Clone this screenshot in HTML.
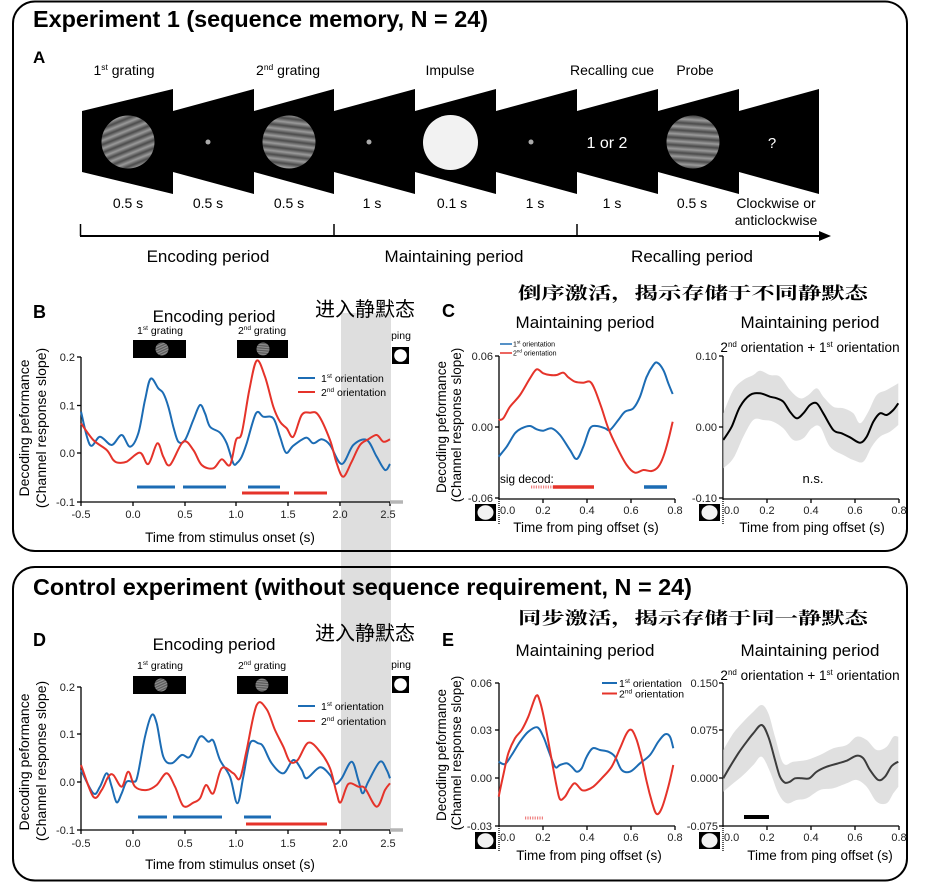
<!DOCTYPE html>
<html><head><meta charset="utf-8">
<style>
html,body{margin:0;padding:0;background:#fff;}
svg{display:block;font-family:"Liberation Sans",Arial,sans-serif;}
.cjk{font-family:"Liberation Sans","Noto Sans CJK SC","WenQuanYi Zen Hei",sans-serif;}
.cjks{font-family:"Liberation Serif","Noto Serif CJK SC","Noto Sans CJK SC",serif;font-weight:700;}
</style></head><body>
<svg width="936" height="882" viewBox="0 0 936 882" xmlns="http://www.w3.org/2000/svg">
<defs>
<linearGradient id="sg" x1="0" y1="0" x2="0" y2="1"><stop offset="0" stop-color="#4a4a4a"/><stop offset="0.5" stop-color="#9a9a9a"/><stop offset="1" stop-color="#4a4a4a"/></linearGradient>
<pattern id="g1" patternUnits="userSpaceOnUse" width="80" height="7.5" patternTransform="rotate(-22)"><rect width="80" height="7.5" fill="url(#sg)"/></pattern>
<pattern id="g2" patternUnits="userSpaceOnUse" width="80" height="7.5" patternTransform="rotate(7)"><rect width="80" height="7.5" fill="url(#sg)"/></pattern>
<pattern id="g3" patternUnits="userSpaceOnUse" width="80" height="7.5" patternTransform="rotate(4)"><rect width="80" height="7.5" fill="url(#sg)"/></pattern>
<pattern id="gs1" patternUnits="userSpaceOnUse" width="30" height="2.4" patternTransform="rotate(-25)"><rect width="30" height="2.4" fill="url(#sg)"/></pattern>
<pattern id="gs2" patternUnits="userSpaceOnUse" width="30" height="2.4" patternTransform="rotate(5)"><rect width="30" height="2.4" fill="url(#sg)"/></pattern>
</defs>

<!-- gray band -->
<rect x="341" y="313" width="50" height="517" fill="#dedede"/>

<!-- boxes -->
<rect x="13" y="1.5" width="894" height="549.5" rx="22" fill="none" stroke="#000" stroke-width="2"/>
<rect x="13" y="567" width="894" height="313.5" rx="22" fill="none" stroke="#000" stroke-width="2"/>

<!-- Titles -->
<text x="33" y="27" font-size="23" font-weight="bold" textLength="455" lengthAdjust="spacingAndGlyphs">Experiment 1 (sequence memory, N = 24)</text>
<text x="33" y="595" font-size="23" font-weight="bold" textLength="659" lengthAdjust="spacingAndGlyphs">Control experiment (without sequence requirement, N = 24)</text>

<!-- Panel A -->
<text x="33" y="63" font-size="17" font-weight="bold">A</text>
<g fill="#000">
<polygon points="82,111 173,89 173,194 82,172"/>
<polygon points="173,111 254,89 254,194 173,172"/>
<polygon points="254,111 334,89 334,194 254,172"/>
<polygon points="334,111 415,89 415,194 334,172"/>
<polygon points="415,111 496,89 496,194 415,172"/>
<polygon points="496,111 577,89 577,194 496,172"/>
<polygon points="577,111 658,89 658,194 577,172"/>
<polygon points="658,111 739,89 739,194 658,172"/>
<polygon points="739,111 819,89 819,194 739,172"/>
</g>
<circle cx="128" cy="142" r="26.5" fill="url(#g1)"/>
<circle cx="208" cy="142" r="2.5" fill="#aaa"/>
<circle cx="289" cy="142" r="26.5" fill="url(#g2)"/>
<circle cx="369" cy="142" r="2.5" fill="#aaa"/>
<circle cx="450.5" cy="142.5" r="27.5" fill="#f2f2f2"/>
<circle cx="531" cy="142" r="2.5" fill="#aaa"/>
<text x="607" y="148" font-size="16" fill="#fff" text-anchor="middle">1 or 2</text>
<circle cx="693" cy="142" r="26.5" fill="url(#g3)"/>
<text x="772" y="148" font-size="15" fill="#fff" text-anchor="middle">?</text>

<g font-size="14" text-anchor="middle">
<text x="124" y="75">1<tspan font-size="8.5" dy="-5">st</tspan><tspan dy="5"> grating</tspan></text>
<text x="288" y="75">2<tspan font-size="8.5" dy="-5">nd</tspan><tspan dy="5"> grating</tspan></text>
<text x="450" y="75">Impulse</text>
<text x="612" y="75">Recalling cue</text>
<text x="695" y="75">Probe</text>
<text x="128" y="208">0.5 s</text>
<text x="208" y="208">0.5 s</text>
<text x="289" y="208">0.5 s</text>
<text x="372" y="208">1 s</text>
<text x="452" y="208">0.1 s</text>
<text x="535" y="208">1 s</text>
<text x="612" y="208">1 s</text>
<text x="692" y="208">0.5 s</text>
<text x="776" y="208">Clockwise or</text>
<text x="776" y="225">anticlockwise</text>
</g>
<line x1="80" y1="236" x2="822" y2="236" stroke="#000" stroke-width="2"/>
<polygon points="819,231 831,236 819,241" fill="#000"/>
<g stroke="#000" stroke-width="1.5">
<line x1="80.5" y1="224" x2="80.5" y2="236"/>
<line x1="334" y1="224" x2="334" y2="236"/>
<line x1="577" y1="224" x2="577" y2="236"/>
</g>
<g font-size="17" text-anchor="middle">
<text x="208" y="262">Encoding period</text>
<text x="454" y="262">Maintaining period</text>
<text x="692" y="262">Recalling period</text>
</g>

<!-- Panel B -->
<text x="33" y="318" font-size="18" font-weight="bold">B</text>
<text x="214" y="322" font-size="17" text-anchor="middle">Encoding period</text>
<text x="315" y="316" font-size="20" class="cjk" textLength="100" lengthAdjust="spacingAndGlyphs">进入静默态</text>
<g font-size="10.5" text-anchor="middle">
<text x="160" y="334">1<tspan font-size="6.5" dy="-4">st</tspan><tspan dy="4"> grating</tspan></text>
<text x="262" y="334">2<tspan font-size="6.5" dy="-4">nd</tspan><tspan dy="4"> grating</tspan></text>
<text x="401" y="339">ping</text>
</g>
<rect x="133" y="340" width="53" height="18" fill="#000"/>
<circle cx="162" cy="349" r="6.5" fill="url(#gs1)"/>
<rect x="237" y="340" width="51" height="18" fill="#000"/>
<circle cx="263" cy="349" r="6.5" fill="url(#gs2)"/>
<rect x="392" y="347" width="17" height="17" fill="#000"/>
<circle cx="400.5" cy="355.5" r="6.3" fill="#fff"/>

<g stroke="#000" stroke-width="1.3" fill="none">
<line x1="81" y1="357" x2="81" y2="502"/>
<line x1="81" y1="502" x2="390" y2="502"/>
<line x1="77" y1="357" x2="81" y2="357"/><line x1="77" y1="405.5" x2="81" y2="405.5"/><line x1="77" y1="453" x2="81" y2="453"/><line x1="77" y1="502" x2="81" y2="502"/>
<line x1="81" y1="502" x2="81" y2="506"/><line x1="133" y1="502" x2="133" y2="506"/><line x1="185" y1="502" x2="185" y2="506"/><line x1="236" y1="502" x2="236" y2="506"/><line x1="288" y1="502" x2="288" y2="506"/><line x1="340" y1="502" x2="340" y2="506"/><line x1="390" y1="502" x2="390" y2="506"/>
</g>
<line x1="390" y1="502" x2="403" y2="502" stroke="#b5b5b5" stroke-width="3.5"/>
<g font-size="11" text-anchor="end" fill="#222">
<text x="75" y="361">0.2</text><text x="75" y="409.5">0.1</text><text x="75" y="457">0.0</text><text x="75" y="506">-0.1</text>
</g>
<g font-size="11" text-anchor="middle" fill="#222">
<text x="81" y="518">-0.5</text><text x="133" y="518">0.0</text><text x="185" y="518">0.5</text><text x="236" y="518">1.0</text><text x="288" y="518">1.5</text><text x="340" y="518">2.0</text><text x="388" y="518">2.5</text>
</g>
<g font-size="14" text-anchor="middle">
<text transform="translate(29,428) rotate(-90)">Decoding peformance</text>
<text transform="translate(46,428) rotate(-90)">(Channel response slope)</text>
</g>
<text x="230" y="542" font-size="13.5" text-anchor="middle">Time from stimulus onset (s)</text>
<line x1="298" y1="378" x2="315" y2="378" stroke="#1c6cb4" stroke-width="2"/>
<line x1="298" y1="392" x2="315" y2="392" stroke="#e5332a" stroke-width="2"/>
<g font-size="10.5">
<text x="321" y="382">1<tspan font-size="6.5" dy="-4">st</tspan><tspan dy="4"> orientation</tspan></text>
<text x="321" y="396">2<tspan font-size="6.5" dy="-4">nd</tspan><tspan dy="4"> orientation</tspan></text>
</g>
<path id="bB" fill="none" stroke="#1c6cb4" stroke-width="2"/>
<path id="bR" fill="none" stroke="#e5332a" stroke-width="2"/>
<g stroke-width="3">
<line x1="137" y1="487" x2="175" y2="487" stroke="#1c6cb4"/>
<line x1="183" y1="487" x2="226" y2="487" stroke="#1c6cb4"/>
<line x1="248" y1="487" x2="280" y2="487" stroke="#1c6cb4"/>
<line x1="242" y1="493" x2="289" y2="493" stroke="#e5332a"/>
<line x1="294" y1="493" x2="327" y2="493" stroke="#e5332a"/>
</g>

<!-- Panel C -->
<text x="518" y="299" font-size="17" class="cjks" textLength="350" lengthAdjust="spacingAndGlyphs">倒序激活，揭示存储于不同静默态</text>
<text x="442" y="317" font-size="18" font-weight="bold">C</text>
<g font-size="17" text-anchor="middle">
<text x="585" y="328">Maintaining period</text>
<text x="810" y="328">Maintaining period</text>
</g>
<text x="810" y="352" font-size="13.5" text-anchor="middle">2<tspan font-size="8" dy="-5">nd</tspan><tspan dy="5"> orientation + 1</tspan><tspan font-size="8" dy="-5">st</tspan><tspan dy="5"> orientation</tspan></text>

<g stroke="#000" stroke-width="1.3" fill="none">
<line x1="499" y1="356" x2="499" y2="499"/>
<line x1="499" y1="499" x2="675" y2="499"/>
<line x1="495" y1="356" x2="499" y2="356"/><line x1="495" y1="427" x2="499" y2="427"/><line x1="495" y1="498" x2="499" y2="498"/>
<line x1="543" y1="499" x2="543" y2="503"/><line x1="587" y1="499" x2="587" y2="503"/><line x1="631" y1="499" x2="631" y2="503"/><line x1="675" y1="499" x2="675" y2="503"/>
<line x1="723" y1="356" x2="723" y2="499"/>
<line x1="723" y1="499" x2="899" y2="499"/>
<line x1="719" y1="356" x2="723" y2="356"/><line x1="719" y1="427" x2="723" y2="427"/><line x1="719" y1="498" x2="723" y2="498"/>
<line x1="767" y1="499" x2="767" y2="503"/><line x1="811" y1="499" x2="811" y2="503"/><line x1="855" y1="499" x2="855" y2="503"/><line x1="899" y1="499" x2="899" y2="503"/>
<line x1="499" y1="499" x2="499" y2="525" stroke-dasharray="1,1"/>
<line x1="723" y1="499" x2="723" y2="525" stroke-dasharray="1,1"/>
</g>
<g font-size="11" text-anchor="end" fill="#222">
<text x="493" y="360">0.06</text><text x="493" y="431">0.00</text><text x="493" y="502">-0.06</text>
<text x="717" y="360">0.10</text><text x="717" y="431">0.00</text><text x="717" y="502">-0.10</text>
</g>
<g font-size="11" text-anchor="middle" fill="#222">
<text x="500" y="514" text-anchor="start">0.0</text><text x="543" y="514">0.2</text><text x="587" y="514">0.4</text><text x="631" y="514">0.6</text><text x="675" y="514">0.8</text>
<text x="724" y="514" text-anchor="start">0.0</text><text x="767" y="514">0.2</text><text x="811" y="514">0.4</text><text x="855" y="514">0.6</text><text x="899" y="514">0.8</text>
</g>
<rect x="475" y="504" width="21" height="17" fill="#000"/><ellipse cx="485.5" cy="512.5" rx="8" ry="7.3" fill="#f2f2f2"/>
<rect x="699" y="504" width="21" height="17" fill="#000"/><ellipse cx="709.5" cy="512.5" rx="8" ry="7.3" fill="#f2f2f2"/>
<g font-size="13.5" text-anchor="middle">
<text transform="translate(446,427) rotate(-90)">Decoding peformance</text>
<text transform="translate(461,425) rotate(-90)">(Channel response slope)</text>
<text x="586" y="532">Time from ping offset (s)</text>
<text x="812" y="532">Time from ping offset (s)</text>
</g>
<line x1="500" y1="344" x2="512" y2="344" stroke="#1c6cb4" stroke-width="1.5"/>
<line x1="500" y1="353" x2="512" y2="353" stroke="#e5332a" stroke-width="1.5"/>
<g font-size="7">
<text x="513" y="346.5">1<tspan font-size="4.5" dy="-3">st</tspan><tspan dy="3"> orientation</tspan></text>
<text x="513" y="355.5">2<tspan font-size="4.5" dy="-3">nd</tspan><tspan dy="3"> orientation</tspan></text>
</g>
<path id="cBand" fill="#e0e0e0" stroke="none"/>
<path id="cB" fill="none" stroke="#1c6cb4" stroke-width="2"/>
<path id="cR" fill="none" stroke="#e5332a" stroke-width="2"/>
<path id="cK" fill="none" stroke="#000" stroke-width="2"/>
<text x="500" y="483" font-size="11.8">sig decod:</text>
<line x1="531" y1="487" x2="553" y2="487" stroke="#ef7f7f" stroke-width="3" stroke-dasharray="1.2,1.2"/>
<line x1="553" y1="487" x2="594" y2="487" stroke="#e5332a" stroke-width="3.5"/>
<line x1="644" y1="487" x2="667" y2="487" stroke="#1c6cb4" stroke-width="3.5"/>
<text x="813" y="483" font-size="13" text-anchor="middle">n.s.</text>

<!-- Panel D -->
<text x="33" y="646" font-size="18" font-weight="bold">D</text>
<text x="214" y="650" font-size="17" text-anchor="middle">Encoding period</text>
<text x="315" y="640" font-size="20" class="cjk" textLength="100" lengthAdjust="spacingAndGlyphs">进入静默态</text>
<g font-size="10.5" text-anchor="middle">
<text x="160" y="669">1<tspan font-size="6.5" dy="-4">st</tspan><tspan dy="4"> grating</tspan></text>
<text x="262" y="669">2<tspan font-size="6.5" dy="-4">nd</tspan><tspan dy="4"> grating</tspan></text>
<text x="401" y="668">ping</text>
</g>
<rect x="133" y="676" width="53" height="18" fill="#000"/>
<circle cx="161" cy="685" r="6.5" fill="url(#gs1)"/>
<rect x="237" y="676" width="51" height="18" fill="#000"/>
<circle cx="262" cy="685" r="6.5" fill="url(#gs2)"/>
<rect x="392" y="676" width="17" height="17" fill="#000"/>
<circle cx="400.5" cy="684.5" r="6.3" fill="#fff"/>
<g stroke="#000" stroke-width="1.3" fill="none">
<line x1="81" y1="687" x2="81" y2="830"/>
<line x1="81" y1="830" x2="390" y2="830"/>
<line x1="77" y1="687" x2="81" y2="687"/><line x1="77" y1="734" x2="81" y2="734"/><line x1="77" y1="782" x2="81" y2="782"/><line x1="77" y1="830" x2="81" y2="830"/>
<line x1="81" y1="830" x2="81" y2="834"/><line x1="133" y1="830" x2="133" y2="834"/><line x1="185" y1="830" x2="185" y2="834"/><line x1="236" y1="830" x2="236" y2="834"/><line x1="288" y1="830" x2="288" y2="834"/><line x1="340" y1="830" x2="340" y2="834"/><line x1="390" y1="830" x2="390" y2="834"/>
</g>
<line x1="390" y1="830" x2="403" y2="830" stroke="#b5b5b5" stroke-width="3.5"/>
<g font-size="11" text-anchor="end" fill="#222">
<text x="75" y="691">0.2</text><text x="75" y="738">0.1</text><text x="75" y="786">0.0</text><text x="75" y="834">-0.1</text>
</g>
<g font-size="11" text-anchor="middle" fill="#222">
<text x="81" y="847">-0.5</text><text x="133" y="847">0.0</text><text x="185" y="847">0.5</text><text x="236" y="847">1.0</text><text x="288" y="847">1.5</text><text x="340" y="847">2.0</text><text x="388" y="847">2.5</text>
</g>
<g font-size="14" text-anchor="middle">
<text transform="translate(29,762) rotate(-90)">Decoding peformance</text>
<text transform="translate(46,761) rotate(-90)">(Channel response slope)</text>
</g>
<text x="230" y="869" font-size="13.5" text-anchor="middle">Time from stimulus onset (s)</text>
<line x1="298" y1="706" x2="315" y2="706" stroke="#1c6cb4" stroke-width="2"/>
<line x1="298" y1="721" x2="315" y2="721" stroke="#e5332a" stroke-width="2"/>
<g font-size="10.5">
<text x="321" y="710">1<tspan font-size="6.5" dy="-4">st</tspan><tspan dy="4"> orientation</tspan></text>
<text x="321" y="725">2<tspan font-size="6.5" dy="-4">nd</tspan><tspan dy="4"> orientation</tspan></text>
</g>
<path id="dB" fill="none" stroke="#1c6cb4" stroke-width="2"/>
<path id="dR" fill="none" stroke="#e5332a" stroke-width="2"/>
<g stroke-width="3">
<line x1="138" y1="817" x2="167" y2="817" stroke="#1c6cb4"/>
<line x1="173" y1="817" x2="222" y2="817" stroke="#1c6cb4"/>
<line x1="244" y1="817" x2="271" y2="817" stroke="#1c6cb4"/>
<line x1="246" y1="824" x2="327" y2="824" stroke="#e5332a"/>
</g>

<!-- Panel E -->
<text x="518" y="624" font-size="17" class="cjks" textLength="350" lengthAdjust="spacingAndGlyphs">同步激活，揭示存储于同一静默态</text>
<text x="442" y="646" font-size="18" font-weight="bold">E</text>
<g font-size="17" text-anchor="middle">
<text x="585" y="656">Maintaining period</text>
<text x="810" y="656">Maintaining period</text>
</g>
<text x="810" y="680" font-size="13.5" text-anchor="middle">2<tspan font-size="8" dy="-5">nd</tspan><tspan dy="5"> orientation + 1</tspan><tspan font-size="8" dy="-5">st</tspan><tspan dy="5"> orientation</tspan></text>
<g stroke="#000" stroke-width="1.3" fill="none">
<line x1="499" y1="683" x2="499" y2="826"/>
<line x1="499" y1="826" x2="675" y2="826"/>
<line x1="495" y1="683" x2="499" y2="683"/><line x1="495" y1="730" x2="499" y2="730"/><line x1="495" y1="778" x2="499" y2="778"/><line x1="495" y1="826" x2="499" y2="826"/>
<line x1="543" y1="826" x2="543" y2="830"/><line x1="587" y1="826" x2="587" y2="830"/><line x1="631" y1="826" x2="631" y2="830"/><line x1="675" y1="826" x2="675" y2="830"/>
<line x1="723" y1="683" x2="723" y2="826"/>
<line x1="723" y1="826" x2="899" y2="826"/>
<line x1="719" y1="683" x2="723" y2="683"/><line x1="719" y1="730" x2="723" y2="730"/><line x1="719" y1="778" x2="723" y2="778"/><line x1="719" y1="826" x2="723" y2="826"/>
<line x1="767" y1="826" x2="767" y2="830"/><line x1="811" y1="826" x2="811" y2="830"/><line x1="855" y1="826" x2="855" y2="830"/><line x1="899" y1="826" x2="899" y2="830"/>
<line x1="499" y1="826" x2="499" y2="852" stroke-dasharray="1,1"/>
<line x1="723" y1="826" x2="723" y2="852" stroke-dasharray="1,1"/>
</g>
<g font-size="11" text-anchor="end" fill="#222">
<text x="492" y="687">0.06</text><text x="492" y="734">0.03</text><text x="492" y="782">0.00</text><text x="492" y="830">-0.03</text>
<text x="718" y="687">0.150</text><text x="718" y="734">0.075</text><text x="718" y="782">0.000</text><text x="718" y="830">-0.075</text>
</g>
<g font-size="11" text-anchor="middle" fill="#222">
<text x="500" y="841" text-anchor="start">0.0</text><text x="543" y="841">0.2</text><text x="587" y="841">0.4</text><text x="631" y="841">0.6</text><text x="675" y="841">0.8</text>
<text x="724" y="841" text-anchor="start">0.0</text><text x="767" y="841">0.2</text><text x="811" y="841">0.4</text><text x="855" y="841">0.6</text><text x="899" y="841">0.8</text>
</g>
<rect x="475" y="832" width="21" height="17" fill="#000"/><ellipse cx="485.5" cy="840.5" rx="8" ry="7.3" fill="#f2f2f2"/>
<rect x="699" y="832" width="21" height="17" fill="#000"/><ellipse cx="709.5" cy="840.5" rx="8" ry="7.3" fill="#f2f2f2"/>
<g font-size="13.5" text-anchor="middle">
<text transform="translate(446,755) rotate(-90)">Decoding peformance</text>
<text transform="translate(461,753) rotate(-90)">(Channel response slope)</text>
<text x="589" y="860">Time from ping offset (s)</text>
<text x="820" y="860">Time from ping offset (s)</text>
</g>
<line x1="602" y1="683" x2="617" y2="683" stroke="#1c6cb4" stroke-width="2"/>
<line x1="602" y1="693.5" x2="617" y2="693.5" stroke="#e5332a" stroke-width="2"/>
<g font-size="10.5">
<text x="619" y="687">1<tspan font-size="6.5" dy="-4">st</tspan><tspan dy="4"> orientation</tspan></text>
<text x="619" y="697.5">2<tspan font-size="6.5" dy="-4">nd</tspan><tspan dy="4"> orientation</tspan></text>
</g>
<path id="eBand" fill="#e0e0e0" stroke="none"/>
<path id="eB" fill="none" stroke="#1c6cb4" stroke-width="2"/>
<path id="eR" fill="none" stroke="#e5332a" stroke-width="2"/>
<path id="eK" fill="none" stroke="#3c3c3c" stroke-width="2"/>
<line x1="525" y1="818" x2="543" y2="818" stroke="#ef7f7f" stroke-width="3" stroke-dasharray="1.2,1.2"/>
<line x1="744" y1="817" x2="769" y2="817" stroke="#000" stroke-width="4"/>
</svg>
<script>
function cr(pts, move){
  var d=(move===false?'L':'M')+pts[0][0].toFixed(1)+','+pts[0][1].toFixed(1);
  for(var i=0;i<pts.length-1;i++){
    var p0=pts[i-1]||pts[i],p1=pts[i],p2=pts[i+1],p3=pts[i+2]||p2;
    var c1x=p1[0]+(p2[0]-p0[0])/6,c1y=p1[1]+(p2[1]-p0[1])/6;
    var c2x=p2[0]-(p3[0]-p1[0])/6,c2y=p2[1]-(p3[1]-p1[1])/6;
    d+=' C'+c1x.toFixed(1)+','+c1y.toFixed(1)+' '+c2x.toFixed(1)+','+c2y.toFixed(1)+' '+p2[0].toFixed(1)+','+p2[1].toFixed(1);
  }
  return d;
}
function z(a,ox,oy){return a.map(function(p){return [p[0]/3+ox,p[1]/3+oy];});}
function set(id,d){document.getElementById(id).setAttribute('d',d);}
function band(id,up,lo,ox,oy){
  var u=z(up,ox,oy), l=z(lo,ox,oy).reverse();
  set(id, cr(u)+' '+cr(l,false)+' Z');
}
// Panel B (offset 0,280)
set('bB',cr(z([[243,395],[270,495],[300,470],[335,495],[365,465],[390,500],[415,460],[435,360],[452,296],[475,325],[490,340],[505,380],[520,440],[535,485],[555,480],[580,420],[600,375],[615,400],[630,440],[660,458],[680,490],[700,550],[712,548],[725,530],[740,490],[768,400],[790,410],[820,415],[840,470],[858,518],[880,497],[918,473],[940,490],[965,478],[990,495],[1025,552],[1060,495],[1100,480],[1130,530],[1155,570],[1170,552]],0,280)));
set('bR',cr(z([[243,430],[280,480],[320,510],[340,540],[355,548],[380,545],[420,518],[445,552],[472,490],[490,530],[510,555],[550,485],[580,510],[605,555],[640,565],[665,538],[690,555],[708,480],[725,460],[748,330],[770,242],[795,290],[820,380],[840,425],[860,445],[880,470],[905,405],[930,398],[955,405],[990,480],[1010,550],[1030,590],[1055,545],[1080,495],[1105,478],[1130,465],[1150,485],[1170,478]],0,280)));
// Panel D (offset 0,560)
set('dB',cr(z([[243,630],[280,700],[300,680],[320,640],[335,680],[350,727],[365,700],[380,665],[400,665],[412,650],[435,530],[455,465],[470,490],[490,590],[515,610],[545,585],[570,590],[600,530],[625,545],[640,542],[660,600],[690,650],[712,730],[730,650],[750,550],[775,550],[790,560],[815,610],[850,640],[880,600],[905,630],[920,655],[960,622],[990,645],[1005,672],[1025,655],[1055,605],[1075,660],[1088,700],[1105,665],[1140,605],[1160,630],[1170,655]],0,560)));
set('dR',cr(z([[243,615],[280,710],[305,690],[325,650],[340,645],[365,680],[385,635],[405,680],[440,690],[470,675],[500,640],[525,680],[550,738],[580,728],[600,715],[618,675],[640,700],[665,625],[700,640],[720,655],[740,570],[770,435],[800,448],[825,510],[850,560],[870,605],[893,600],[925,548],[960,575],[990,625],[1010,700],[1022,727],[1045,672],[1075,680],[1095,685],[1130,740],[1155,690],[1170,670]],0,560)));
// Panel C (offset 420,280)
set('cB',cr(z([[236,530],[260,500],[285,460],[305,445],[330,438],[350,448],[370,452],[395,445],[420,465],[450,510],[470,537],[490,500],[510,445],[530,438],[555,445],[570,450],[595,420],[615,395],[640,385],[660,350],[680,290],[700,255],[712,248],[730,270],[745,310],[758,342]],420,280)));
set('cR',cr(z([[236,420],[250,415],[270,380],[300,345],[330,295],[350,268],[370,280],[390,285],[410,285],[430,278],[445,292],[465,305],[490,308],[510,305],[525,330],[545,385],[565,445],[590,500],[620,555],[645,578],[670,570],[695,573],[715,560],[730,530],[745,480],[758,425]],420,280)));
band('cBand',[[910,400],[940,330],[970,300],[1000,285],[1020,272],[1050,285],[1080,290],[1110,330],[1140,355],[1165,345],[1190,325],[1210,350],[1240,380],[1270,385],[1300,400],[1320,430],[1345,395],[1370,345],[1400,330],[1435,310]],
 [[910,565],[940,535],[970,470],[1000,420],[1030,420],[1060,425],[1090,445],[1120,480],[1150,475],[1175,445],[1200,440],[1230,500],[1270,525],[1300,540],[1330,545],[1355,500],[1380,470],[1410,455],[1435,435]],420,280);
set('cK',cr(z([[910,480],[935,440],[960,380],[990,345],[1020,340],[1050,350],[1070,355],[1090,365],[1110,395],[1130,415],[1150,400],[1170,375],[1190,370],[1210,400],[1240,450],[1265,460],[1290,472],[1320,488],[1340,470],[1360,425],[1380,400],[1400,405],[1420,390],[1435,370]],420,280)));
// Panel E (offset 420,590)
set('eB',cr(z([[236,515],[255,522],[275,495],[300,455],[325,425],[352,412],[370,440],[385,480],[405,530],[420,525],[440,520],[455,530],[470,545],[485,535],[500,500],[518,475],[540,480],[565,485],[585,500],[605,540],[630,545],[660,520],[690,495],[715,455],[735,433],[750,440],[760,475]],420,590)));
set('eR',cr(z([[236,620],[250,555],[265,490],[285,445],[305,420],[325,380],[348,318],[360,335],[375,400],[395,510],[410,590],[420,628],[435,620],[450,595],[465,580],[485,600],[500,600],[520,590],[545,565],[575,530],[600,475],[620,430],[635,420],[650,450],[665,505],[680,575],[697,640],[710,672],[725,655],[745,590],[760,525]],420,590)));
band('eBand',[[910,480],[940,430],[970,395],[1000,365],[1025,345],[1045,370],[1065,440],[1090,520],[1120,515],[1160,510],[1200,495],[1240,475],[1280,465],[1310,440],[1340,450],[1370,480],[1400,470],[1420,440],[1435,440]],
 [[910,605],[940,580],[970,555],[1000,525],[1025,500],[1050,545],[1075,610],[1100,640],[1130,630],[1160,625],[1200,600],[1240,595],[1280,580],[1310,570],[1340,590],[1370,635],[1400,640],[1420,610],[1435,590]],420,590);
set('eK',cr(z([[910,565],[930,530],[955,490],[980,455],[1000,430],[1025,405],[1045,440],[1065,510],[1080,560],[1095,578],[1110,575],[1125,565],[1145,565],[1168,565],[1190,545],[1220,530],[1255,520],[1280,512],[1310,497],[1330,505],[1350,540],[1375,570],[1395,560],[1415,528],[1435,515]],420,590)));
</script>
</body></html>
